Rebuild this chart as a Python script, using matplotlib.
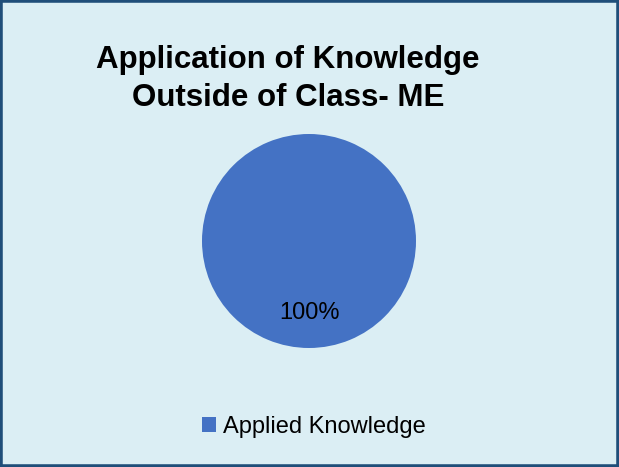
import matplotlib.pyplot as plt
from matplotlib.patches import Patch, Rectangle

# data
labels = ["Applied Knowledge"]
values = [100]
colors = ["#4472C4"]
title = "Application of Knowledge\nOutside of Class- ME"

W, H = 619, 467
plt.rcParams['font.family'] = ['Liberation Sans', 'DejaVu Sans']

fig = plt.figure(figsize=(W / 100, H / 100), dpi=100)
fig.patch.set_facecolor("#DBEEF4")

# pie axes: centre (309, 241), radius 107 px
cx, cy, r = 309, 241, 107
ax = fig.add_axes([(cx - r) / W, (H - cy - r) / H, 2 * r / W, 2 * r / H])
wedges, texts, autotexts = ax.pie(values, colors=colors, startangle=90,
                                  autopct='%1.0f%%', pctdistance=0.67,
                                  radius=1.0, textprops={'fontsize': 17, 'color': 'black'})
ax.set_xlim(-1, 1)
ax.set_ylim(-1, 1)
ax.set_aspect('equal')
ax.axis('off')

fig.text(288 / W, 1 - 79 / H, title, ha='center', va='center',
         fontsize=22.5, fontweight='bold', linespacing=1.35)

handles = [Patch(facecolor=c, edgecolor='none') for c in colors]
fig.legend(handles, labels, loc='center', bbox_to_anchor=(314 / W, 1 - 427 / H),
           frameon=False, fontsize=17, handlelength=0.6, handleheight=0.6,
           handletextpad=0.3, borderpad=0)

# chart border
fig.add_artist(Rectangle((0, 0), 1, 1, transform=fig.transFigure, fill=False,
                         edgecolor="#1F4E79", linewidth=4.0, clip_on=True))

fig.savefig("out.png", dpi=100, facecolor=fig.get_facecolor())
